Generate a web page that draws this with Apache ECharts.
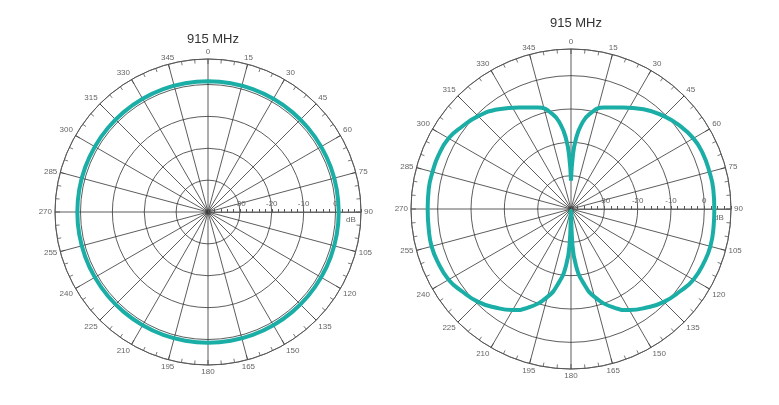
<!DOCTYPE html>
<html>
<head>
<meta charset="utf-8">
<script src="https://cdn.jsdelivr.net/npm/echarts@6/dist/echarts.min.js"></script>
</head>
<body style="margin:0;background:#fff">
<div id="chart" style="width:779px;height:405px;"></div>
<script type="text/javascript">
// compass angles (0 = top, clockwise) and gain in dB
var leftAngles = [0,10,20,30,40,50,60,70,80,90,100,110,120,130,140,150,160,170,180,190,200,210,220,230,240,250,260,270,280,290,300,310,320,330,340,350,360];
var leftGain   = [1,1,1,1,1,1,1,1,1,1,1,1,1,1,1,1,1,1,1,1,1,1,1,1,1,1,1,1,1,1,1,1,1,1,1,1,1];
var rightAngles = [0,2,4,7,11,18,27,36,45,52,60,67,75,82,90,97,105,112,120,127,135,142,150,157,165,170,175,178,180,182,185,190,195,203,210,218,225,233,240,248,255,262,270,278,285,292,300,307,315,324,333,342,349,353,356,358,360];
var rightGain   = [-31.5,-24,-19,-14.5,-11,-8,-5.8,-3,-0.6,1,2.4,2.9,3,3.1,3,3.1,3.3,3,2.4,1,-0.6,-2.6,-5,-8,-12.7,-17,-23,-31,-39.5,-31,-23,-17,-12.7,-8,-5,-2.6,-0.6,1,2.4,3,3.3,3.1,3,3.1,3,2.9,2.4,1,-0.6,-3,-5.8,-8,-11,-14.5,-19,-24,-31.5];
var titleText = '915 MHz';
var rMin = -40, rMax = 8;

var myChart = echarts.init(document.getElementById('chart'));

// axis value 0 sits at the right (compass 90)
function toData(angles, gains) {
    var out = [];
    for (var i = 0; i < angles.length; i++) {
        out.push([gains[i], (angles[i] + 270) % 360]);
    }
    return out;
}

function angleAxis(idx) {
    return {
        polarIndex: idx, type: 'value', min: 0, max: 360, interval: 15,
        startAngle: 0, clockwise: true,
        axisLine: {lineStyle: {color: '#555', width: 0.8}},
        axisTick: {inside: true, length: 5, lineStyle: {color: '#555', width: 0.8}},
        minorTick: {show: true, splitNumber: 3, length: 4, lineStyle: {color: '#555', width: 0.8}},
        splitLine: {lineStyle: {color: '#333', width: 0.8}},
        axisLabel: {
            color: '#666', fontSize: 8, margin: 3,
            formatter: function (v) { return v === 360 ? '' : String((v + 90) % 360); }
        }
    };
}

function radiusAxis(idx) {
    return {
        polarIndex: idx, type: 'value', min: rMin, max: rMax, interval: 10,
        axisLine: {lineStyle: {color: '#555', width: 0.8}},
        axisTick: {show: true, length: 3, lineStyle: {color: '#555'}},
        minorTick: {show: true, splitNumber: 5, length: 3, lineStyle: {color: '#555'}},
        splitLine: {lineStyle: {color: '#333', width: 0.8}},
        axisLabel: {
            color: '#666', fontSize: 8, margin: 4,
            formatter: function (v) { return (v === rMin || v === rMax) ? '' : String(v); }
        }
    };
}

var option = {
    animation: false,
    title: [
        {text: titleText, left: 208, top: 28, textAlign: 'center', textStyle: {fontSize: 13, fontWeight: 'normal', color: '#333', fontFamily: 'Liberation Sans'}},
        {text: titleText, left: 571, top: 12, textAlign: 'center', textStyle: {fontSize: 13, fontWeight: 'normal', color: '#333', fontFamily: 'Liberation Sans'}}
    ],
    polar: [
        {center: [208, 212], radius: 153},
        {center: [571, 209], radius: 160}
    ],
    angleAxis: [angleAxis(0), angleAxis(1)],
    radiusAxis: [radiusAxis(0), radiusAxis(1)],
    graphic: [
        {type: 'text', left: 346, top: 216, style: {text: 'dB', fill: '#666', fontSize: 8}},
        {type: 'text', left: 714, top: 214, style: {text: 'dB', fill: '#666', fontSize: 8}}
    ],
    series: [
        {type: 'line', coordinateSystem: 'polar', polarIndex: 0, smooth: true, showSymbol: false,
         lineStyle: {color: '#1aaea6', width: 4}, data: toData(leftAngles, leftGain)},
        {type: 'line', coordinateSystem: 'polar', polarIndex: 1, smooth: true, showSymbol: false,
         lineStyle: {color: '#1aaea6', width: 4}, data: toData(rightAngles, rightGain)}
    ]
};
myChart.setOption(option);
</script>
</body>
</html>
